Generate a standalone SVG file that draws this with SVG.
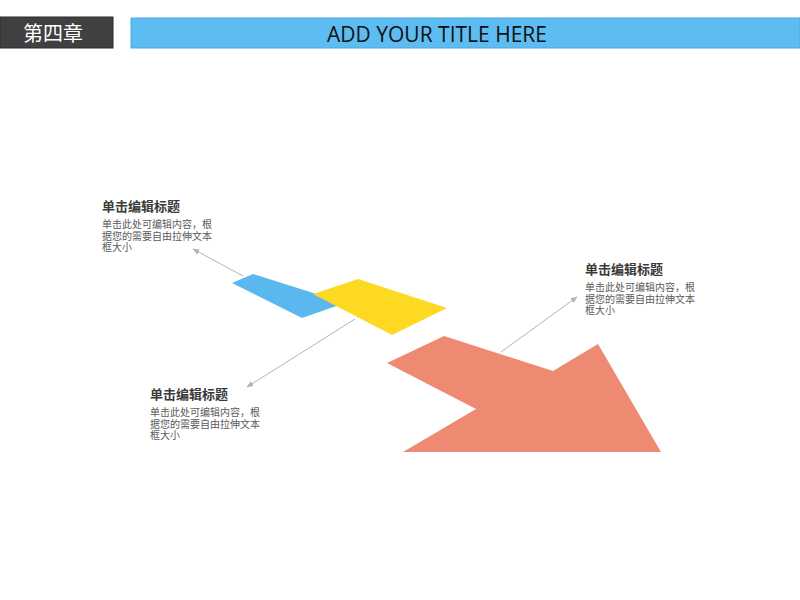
<svg xmlns="http://www.w3.org/2000/svg" width="800" height="600" viewBox="0 0 800 600">
<defs>
<style>
.t{font-family:"Liberation Sans","Noto Sans CJK SC",sans-serif;font-size:13px;font-weight:bold;fill:#3a3a3a}
.b{font-family:"Liberation Sans","Noto Sans CJK SC",sans-serif;font-size:10px;fill:#595959}
.c{stroke:#b3b3b3;stroke-width:1;fill:none;marker-end:url(#ah)}
</style>
<marker id="ah" viewBox="0 0 10 10" refX="9" refY="5" markerWidth="7" markerHeight="7" orient="auto" markerUnits="userSpaceOnUse">
<path d="M0,1 L10,5 L0,9 Z" fill="#b3b3b3"/>
</marker>
</defs>
<rect width="800" height="600" fill="#ffffff"/>
<g id="header">
<rect x="0" y="17" width="113" height="31" fill="#404040" stroke="#2a2a2a" stroke-width="1"/>
<text x="53" y="41" text-anchor="middle" font-family="Noto Sans CJK SC,sans-serif" font-size="20" fill="#ffffff">第四章</text>
<rect x="131" y="18" width="669" height="30" fill="#5dbcf1" stroke="#4aa9e0" stroke-width="1"/>
<text x="437" y="41.5" text-anchor="middle" font-family="Open Sans,Liberation Sans,sans-serif" font-size="21" fill="#111111">ADD YOUR TITLE HERE</text>
</g>
<g id="shapes">
<polygon id="blue" points="232,283 253,274 345,303 302,318" fill="#5bb8ef"/>
<polygon id="yellow" points="313,294 358,279 447,308 392,335" fill="#fdd922"/>
<polygon id="arrow" points="387,363 444,336 553,371 598,344 661,452 403,452 476,409" fill="#ee8a72"/>
</g>
<g id="connectors">
<line class="c" x1="243" y1="276" x2="193" y2="249"/>
<line class="c" x1="355" y1="319" x2="247" y2="387"/>
<line class="c" x1="501" y1="352" x2="577" y2="297"/>
</g>
<g id="label1">
<text class="t" x="102" y="211">单击编辑标题</text>
<text class="b" x="102" y="228">单击此处可编辑内容，根</text>
<text class="b" x="102" y="239.5">据您的需要自由拉伸文本</text>
<text class="b" x="102" y="251">框大小</text>
</g>
<g id="label2">
<text class="t" x="150" y="399">单击编辑标题</text>
<text class="b" x="150" y="416">单击此处可编辑内容，根</text>
<text class="b" x="150" y="427.5">据您的需要自由拉伸文本</text>
<text class="b" x="150" y="439">框大小</text>
</g>
<g id="label3">
<text class="t" x="585" y="274">单击编辑标题</text>
<text class="b" x="585" y="291">单击此处可编辑内容，根</text>
<text class="b" x="585" y="302.5">据您的需要自由拉伸文本</text>
<text class="b" x="585" y="314">框大小</text>
</g>
</svg>
